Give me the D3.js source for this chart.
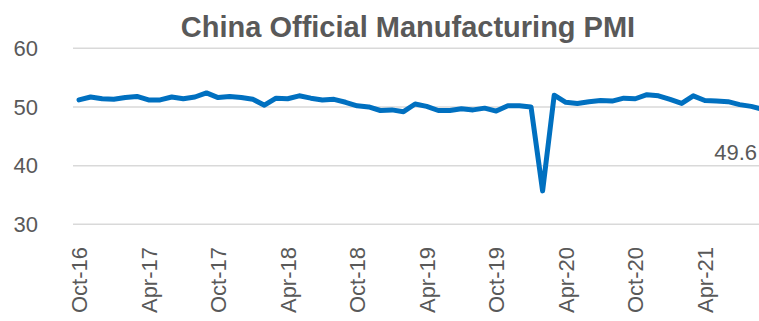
<!DOCTYPE html>
<html>
<head>
<meta charset="utf-8">
<script src="https://cdn.jsdelivr.net/npm/d3@7"></script>
<style>
  body { margin: 0; background: #fff; }
  text { font-family: "Liberation Sans", Arial, sans-serif; fill: #595959; }
</style>
</head>
<body>
<div id="chart"></div>
<script>
    // monthly PMI, Oct-16 .. Sep-21
    const months = [
      'Oct-16','Nov-16','Dec-16',
      'Jan-17','Feb-17','Mar-17','Apr-17','May-17','Jun-17','Jul-17','Aug-17','Sep-17','Oct-17','Nov-17','Dec-17',
      'Jan-18','Feb-18','Mar-18','Apr-18','May-18','Jun-18','Jul-18','Aug-18','Sep-18','Oct-18','Nov-18','Dec-18',
      'Jan-19','Feb-19','Mar-19','Apr-19','May-19','Jun-19','Jul-19','Aug-19','Sep-19','Oct-19','Nov-19','Dec-19',
      'Jan-20','Feb-20','Mar-20','Apr-20','May-20','Jun-20','Jul-20','Aug-20','Sep-20','Oct-20','Nov-20','Dec-20',
      'Jan-21','Feb-21','Mar-21','Apr-21','May-21','Jun-21','Jul-21','Aug-21','Sep-21'
    ];
    const pmi = [
      51.2, 51.7, 51.4,
      51.3, 51.6, 51.8, 51.2, 51.2, 51.7, 51.4, 51.7, 52.4, 51.6, 51.8, 51.6,
      51.3, 50.3, 51.5, 51.4, 51.9, 51.5, 51.2, 51.3, 50.8, 50.2, 50.0, 49.4,
      49.5, 49.2, 50.5, 50.1, 49.4, 49.4, 49.7, 49.5, 49.8, 49.3, 50.2, 50.2,
      50.0, 35.7, 52.0, 50.8, 50.6, 50.9, 51.1, 51.0, 51.5, 51.4, 52.1, 51.9,
      51.3, 50.6, 51.9, 51.1, 51.0, 50.9, 50.4, 50.1, 49.6
    ];
    const tickLabels = ['Oct-16','Apr-17','Oct-17','Apr-18','Oct-18','Apr-19','Oct-19','Apr-20','Oct-20','Apr-21'];
    const yTicks = [30, 40, 50, 60];

    const data = months.map((m, i) => ({ month: m, value: pmi[i] }));

    const svgWidth = 759;
    const svgHeight = 321;

    const svg = d3.select('#chart')
        .append('svg')
        .attr('width', svgWidth)
        .attr('height', svgHeight);

    const xScale = d3.scalePoint()
        .domain(months)
        .range([79, 79 + 59 * 11.59]);

    const yScale = d3.scaleLinear()
        .domain([30, 60])
        .range([224.3, 48.3]);

    // title
    svg.append('text')
        .attr('x', 408)
        .attr('y', 37)
        .attr('text-anchor', 'middle')
        .style('font-size', '29px')
        .style('font-weight', 'bold')
        .text('China Official Manufacturing PMI');

    // gridlines
    svg.append('g')
        .selectAll('line')
        .data(yTicks)
        .enter().append('line')
        .attr('x1', 73)
        .attr('x2', svgWidth)
        .attr('y1', d => yScale(d))
        .attr('y2', d => yScale(d))
        .attr('stroke', '#d9d9d9')
        .attr('stroke-width', 1.5);

    // y labels
    svg.append('g')
        .selectAll('text')
        .data(yTicks)
        .enter().append('text')
        .attr('x', 38)
        .attr('y', d => yScale(d))
        .attr('dy', '0.35em')
        .attr('text-anchor', 'end')
        .style('font-size', '22px')
        .text(d => d);

    // x labels, rotated
    svg.append('g')
        .selectAll('text')
        .data(tickLabels)
        .enter().append('text')
        .attr('transform', d => `translate(${xScale(d) + 8},247) rotate(-90)`)
        .attr('text-anchor', 'end')
        .style('font-size', '22px')
        .text(d => d);

    const line = d3.line()
        .x(d => xScale(d.month))
        .y(d => yScale(d.value));

    svg.append('path')
        .datum(data)
        .attr('fill', 'none')
        .attr('stroke', '#0070c0')
        .attr('stroke-width', 5)
        .attr('stroke-linejoin', 'round')
        .attr('stroke-linecap', 'round')
        .attr('d', line);

    // last value label
    const last = data[data.length - 1];
    svg.append('text')
        .attr('x', 757)
        .attr('y', yScale(last.value) + 51)
        .attr('text-anchor', 'end')
        .style('font-size', '22px')
        .text(last.value.toFixed(1));
</script>
</body>
</html>
